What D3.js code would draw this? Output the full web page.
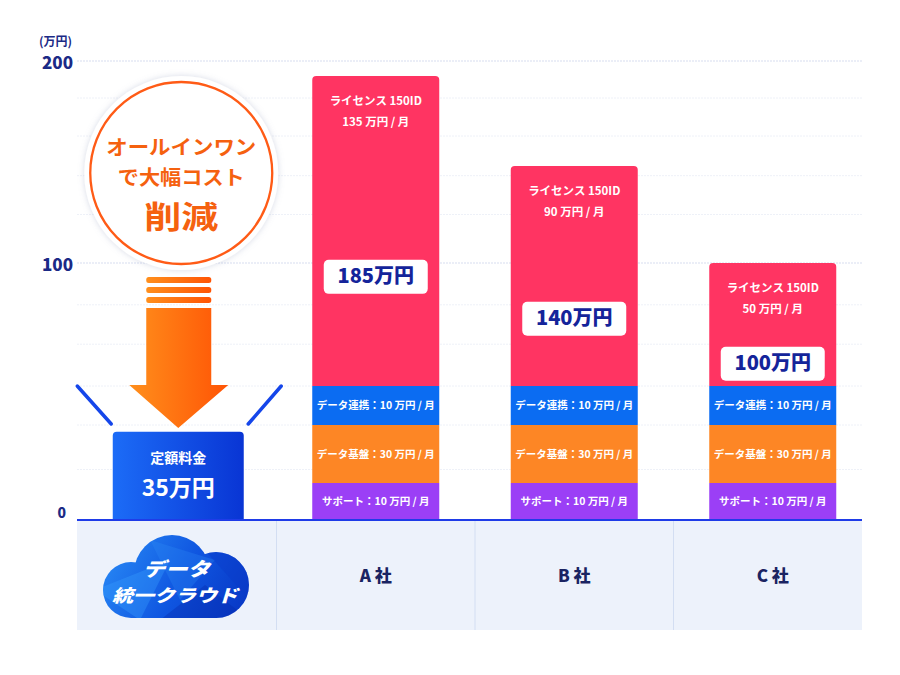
<!DOCTYPE html>
<html><head><meta charset="utf-8">
<script src="https://cdn.jsdelivr.net/npm/d3@7"></script>
<style>
html,body{margin:0;padding:0;background:#fff;}
svg{display:block;font-family:"Noto Sans CJK JP","Noto Sans",sans-serif;}
</style></head>
<body><svg id="c" width="900" height="675"></svg>
<script>
// ---- data ----
const categories = ['cloud', 'A 社', 'B 社', 'C 社'];
const companies = ['A 社', 'B 社', 'C 社'];
const supportValues = [10, 10, 10];
const platformValues = [30, 30, 30];
const integrationValues = [10, 10, 10];
const licenseValues = [135, 90, 50];
const totals = [185, 140, 100];
const fixedFee = 35;
const segmentNames = ['サポート', 'データ基盤', 'データ連携'];
const yTickValues = [0, 100, 200];
const yTickLabels = ['0', '100', '200'];
const minorGridValues = [17, 40, 50, 67, 83, 120, 136, 155, 174];
const unitLabel = '(万円)';
const badgeLines = ['オールインワン', 'で大幅コスト', '削減'];
const fixedLabel = '定額料金';
const cloudLines = ['データ', '統一クラウド'];

// ---- layout ----
const svg = d3.select('#c');
const plotL = 77, plotR = 862;
const x = d3.scaleBand().domain(categories).range([78, 872]).paddingInner(0).paddingOuter(0);
// infographic (non-uniform) value scale
const y = d3.scaleLinear()
  .domain([0, 10, 40, 50, 100, 140, 185, 200])
  .range([520, 483, 425, 386, 263, 166, 76, 61]);
const barW = 127;
const colors = {support: '#9b3ff6', platform: '#fd8625', integration: '#0b6cf2', license: '#ff3462'};
const navy = '#1b2a86';

const defs = svg.append('defs');
function lin(id, x1, y1, x2, y2, stops, user) {
  const g = defs.append('linearGradient').attr('id', id)
    .attr('x1', x1).attr('y1', y1).attr('x2', x2).attr('y2', y2);
  if (user) g.attr('gradientUnits', 'userSpaceOnUse');
  stops.forEach(s => g.append('stop').attr('offset', s[0]).attr('stop-color', s[1]));
}
lin('gBox', '0%', '0%', '100%', '0%', [[0, '#1c6cf7'], [1, '#0935d4']]);
lin('gArrow', '0%', '0%', '100%', '0%', [[0, '#ff8f1c'], [1, '#ff5405']]);
lin('gCloud', 100, 535, 250, 618, [[0, '#2b90f8'], [0.55, '#0f55e0'], [1, '#0734c2']], true);
const sh = defs.append('filter').attr('id', 'glow').attr('x', '-20%').attr('y', '-20%').attr('width', '140%').attr('height', '140%');
sh.append('feDropShadow').attr('dx', 0).attr('dy', 0).attr('stdDeviation', 3).attr('flood-color', '#8a94b8').attr('flood-opacity', 0.35);

// ---- grid ----
svg.append('g').selectAll('line').data(minorGridValues).join('line')
  .attr('x1', plotL).attr('x2', plotR).attr('y1', d => y(d)).attr('y2', d => y(d))
  .attr('stroke', '#eef1f8').attr('stroke-width', 1).attr('stroke-dasharray', '2,1');
svg.append('g').selectAll('line').data(yTickValues.filter(v => v > 0)).join('line')
  .attr('x1', plotL).attr('x2', plotR).attr('y1', d => y(d)).attr('y2', d => y(d))
  .attr('stroke', '#d8def0').attr('stroke-width', 1.2).attr('stroke-dasharray', '2,1');

// ---- y labels ----
svg.append('text').attr('x', 39).attr('y', 45.5).text(unitLabel)
  .attr('font-size', 12).attr('font-weight', 700).attr('fill', navy);
svg.append('g').selectAll('text').data(yTickValues).join('text')
  .attr('x', d => d === 0 ? 66 : 73).attr('y', d => y(d) + (d === 0 ? -6 : 3))
  .attr('text-anchor', 'end').attr('dominant-baseline', 'middle')
  .attr('font-size', d => d === 0 ? 14 : 17).attr('font-weight', 800).attr('fill', navy)
  .text((d, i) => yTickLabels[i]);

// ---- category panel ----
svg.append('rect').attr('x', plotL).attr('y', 521).attr('width', plotR - plotL).attr('height', 109).attr('fill', '#edf2fb');
svg.append('g').selectAll('line').data(categories.slice(1)).join('line')
  .attr('x1', d => x(d)).attr('x2', d => x(d)).attr('y1', 521).attr('y2', 630)
  .attr('stroke', '#d3def2').attr('stroke-width', 1);
svg.append('g').selectAll('text').data(companies).join('text')
  .attr('x', d => x(d) + x.bandwidth() / 2).attr('y', 577)
  .attr('text-anchor', 'middle').attr('dominant-baseline', 'middle')
  .attr('font-size', 17).attr('font-weight', 800).attr('fill', '#1a2462').text(d => d);

// ---- stacked bars ----
function topRounded(x0, y0, w, h, r) {
  return `M${x0},${y0 + h}V${y0 + r}Q${x0},${y0} ${x0 + r},${y0}H${x0 + w - r}Q${x0 + w},${y0} ${x0 + w},${y0 + r}V${y0 + h}Z`;
}
const stackRows = companies.map((c, i) => ({
  company: c, support: supportValues[i], platform: platformValues[i],
  integration: integrationValues[i], license: licenseValues[i], total: totals[i]
}));
const keys = ['support', 'platform', 'integration', 'license'];
const series = d3.stack().keys(keys)(stackRows);
const gBars = svg.append('g');
series.forEach((s, si) => {
  const key = keys[si];
  s.forEach(d => {
    const cx = x(d.data.company) + x.bandwidth() / 2;
    const x0 = cx - barW / 2, y0 = y(d[1]), y1 = y(d[0]);
    if (key === 'license') {
      gBars.append('path').attr('d', topRounded(x0, y0, barW, y1 - y0, 4)).attr('fill', colors[key]);
    } else {
      gBars.append('rect').attr('x', x0).attr('y', y0).attr('width', barW).attr('height', y1 - y0).attr('fill', colors[key]);
      gBars.append('text').attr('x', cx).attr('y', (y0 + y1) / 2 + 1)
        .attr('text-anchor', 'middle').attr('dominant-baseline', 'middle')
        .attr('font-size', 10.5).attr('font-weight', 600).attr('fill', '#fff')
        .text(`${segmentNames[si]}：${d.data[key]} 万円 / 月`);
    }
  });
});
// license labels + totals
stackRows.forEach((d, i) => {
  const cx = x(d.company) + x.bandwidth() / 2;
  const yTop = y(d.total), yBot = y(d.total - d.license);
  gBars.append('text').attr('x', cx).attr('y', yTop + 26).attr('text-anchor', 'middle').attr('dominant-baseline', 'middle')
    .attr('font-size', 11.5).attr('font-weight', 600).attr('fill', '#fff').text('ライセンス 150ID');
  gBars.append('text').attr('x', cx).attr('y', yTop + 47).attr('text-anchor', 'middle').attr('dominant-baseline', 'middle')
    .attr('font-size', 11.5).attr('font-weight', 600).attr('fill', '#fff').text(`${d.license} 万円 / 月`);
  const h = yBot - yTop;
  const cy = yBot - (0.465 * h - 35);
  gBars.append('rect').attr('x', cx - 52).attr('y', cy - 17).attr('width', 104).attr('height', 34).attr('rx', 5).attr('fill', '#fff');
  gBars.append('text').attr('x', cx).attr('y', cy + 1).attr('text-anchor', 'middle').attr('dominant-baseline', 'middle')
    .attr('font-size', 20).attr('font-weight', 800).attr('fill', '#14249a').text(`${d.total}万円`);
});

// ---- fixed fee bar (データ統一クラウド) ----
const fc = x('cloud') + x.bandwidth() / 2 + 1;
const fw = 131;
const fTop = y(fixedFee) - 3;
svg.append('path').attr('d', topRounded(fc - fw / 2, fTop, fw, y(0) - fTop, 4)).attr('fill', 'url(#gBox)');
svg.append('text').attr('x', fc).attr('y', fTop + 28).attr('text-anchor', 'middle').attr('dominant-baseline', 'middle')
  .attr('font-size', 14).attr('font-weight', 700).attr('fill', '#fff').text(fixedLabel);
svg.append('text').attr('x', fc).attr('y', fTop + 58).attr('text-anchor', 'middle').attr('dominant-baseline', 'middle')
  .attr('font-size', 23).attr('font-weight', 700).attr('fill', '#fff').text(`${fixedFee}万円`);

// baseline
svg.append('line').attr('x1', plotL).attr('x2', plotR).attr('y1', y(0)).attr('y2', y(0))
  .attr('stroke', '#1f3ce8').attr('stroke-width', 2);

// side accent lines
const accents = svg.append('g').attr('stroke', '#1546ea').attr('stroke-width', 3.5).attr('stroke-linecap', 'round');
accents.append('line').attr('x1', fc - 101).attr('y1', 386).attr('x2', fc - 67).attr('y2', 424);
accents.append('line').attr('x1', fc + 103).attr('y1', 386).attr('x2', fc + 70).attr('y2', 424);

// ---- arrow ----
const ag = svg.append('g').attr('fill', 'url(#gArrow)');
[277, 287, 297].forEach(yy => ag.append('rect').attr('x', fc - 32).attr('y', yy).attr('width', 65).attr('height', 6).attr('rx', 2.5));
ag.append('path').attr('d', `M${fc - 32},308 H${fc + 33} V385 H${fc + 50} L${fc},428 L${fc - 49},385 H${fc - 32} Z`);

// ---- badge ----
const bx = fc + 3, by = 173;
svg.append('circle').attr('cx', bx).attr('cy', by).attr('r', 97).attr('fill', '#fff').attr('filter', 'url(#glow)');
svg.append('circle').attr('cx', bx).attr('cy', by).attr('r', 91).attr('fill', '#fff').attr('stroke', '#ff5b16').attr('stroke-width', 2.3);
const orange = '#f5610f';
function fitText(sel, cx, base, size, len, str) {
  return sel.append('text').attr('x', cx - len / 2).attr('y', base)
    .attr('font-size', size).attr('font-weight', 700).attr('fill', orange)
    .attr('textLength', len).attr('lengthAdjust', 'spacingAndGlyphs').text(str);
}
fitText(svg, bx, 154.5, 20, 150, badgeLines[0]);
fitText(svg, bx, 184.6, 20, 127, badgeLines[1]);
fitText(svg, bx, 228, 31, 74, badgeLines[2]);

// ---- cloud logo ----
const cg = svg.append('g');
const clip = defs.append('clipPath').attr('id', 'cloudClip');
const shapes = [
  {cx: 131, cy: 590, r: 28},
  {cx: 172, cy: 573, r: 38},
  {cx: 216, cy: 585, r: 33},
];
shapes.forEach(s => {
  cg.append('circle').attr('cx', s.cx).attr('cy', s.cy).attr('r', s.r).attr('fill', 'url(#gCloud)');
  clip.append('circle').attr('cx', s.cx).attr('cy', s.cy).attr('r', s.r);
});
cg.append('rect').attr('x', 131).attr('y', 585).attr('width', 86).attr('height', 33).attr('fill', 'url(#gCloud)');
clip.append('rect').attr('x', 131).attr('y', 585).attr('width', 86).attr('height', 33);
const facets = cg.append('g').attr('clip-path', 'url(#cloudClip)');
facets.append('path').attr('d', 'M95,590 L170,560 L140,620 Z').attr('fill', '#3aa0ff').attr('opacity', 0.35);
facets.append('path').attr('d', 'M150,540 L215,560 L180,600 Z').attr('fill', '#2f8cf5').attr('opacity', 0.3);
facets.append('path').attr('d', 'M160,620 L205,585 L250,620 Z').attr('fill', '#0628a8').attr('opacity', 0.35);
facets.append('path').attr('d', 'M200,545 L255,560 L250,600 Z').attr('fill', '#0a3ac8').attr('opacity', 0.4);
cg.append('text').attr('x', 143).attr('y', 575.5).attr('font-size', 19).attr('font-weight', 800)
  .attr('font-style', 'italic').attr('fill', '#fff')
  .attr('textLength', 67).attr('lengthAdjust', 'spacingAndGlyphs').text(cloudLines[0]);
cg.append('text').attr('x', 112).attr('y', 601.8).attr('font-size', 17.5).attr('font-weight', 800)
  .attr('font-style', 'italic').attr('fill', '#fff')
  .attr('textLength', 126).attr('lengthAdjust', 'spacingAndGlyphs').text(cloudLines[1]);
</script></body></html>
